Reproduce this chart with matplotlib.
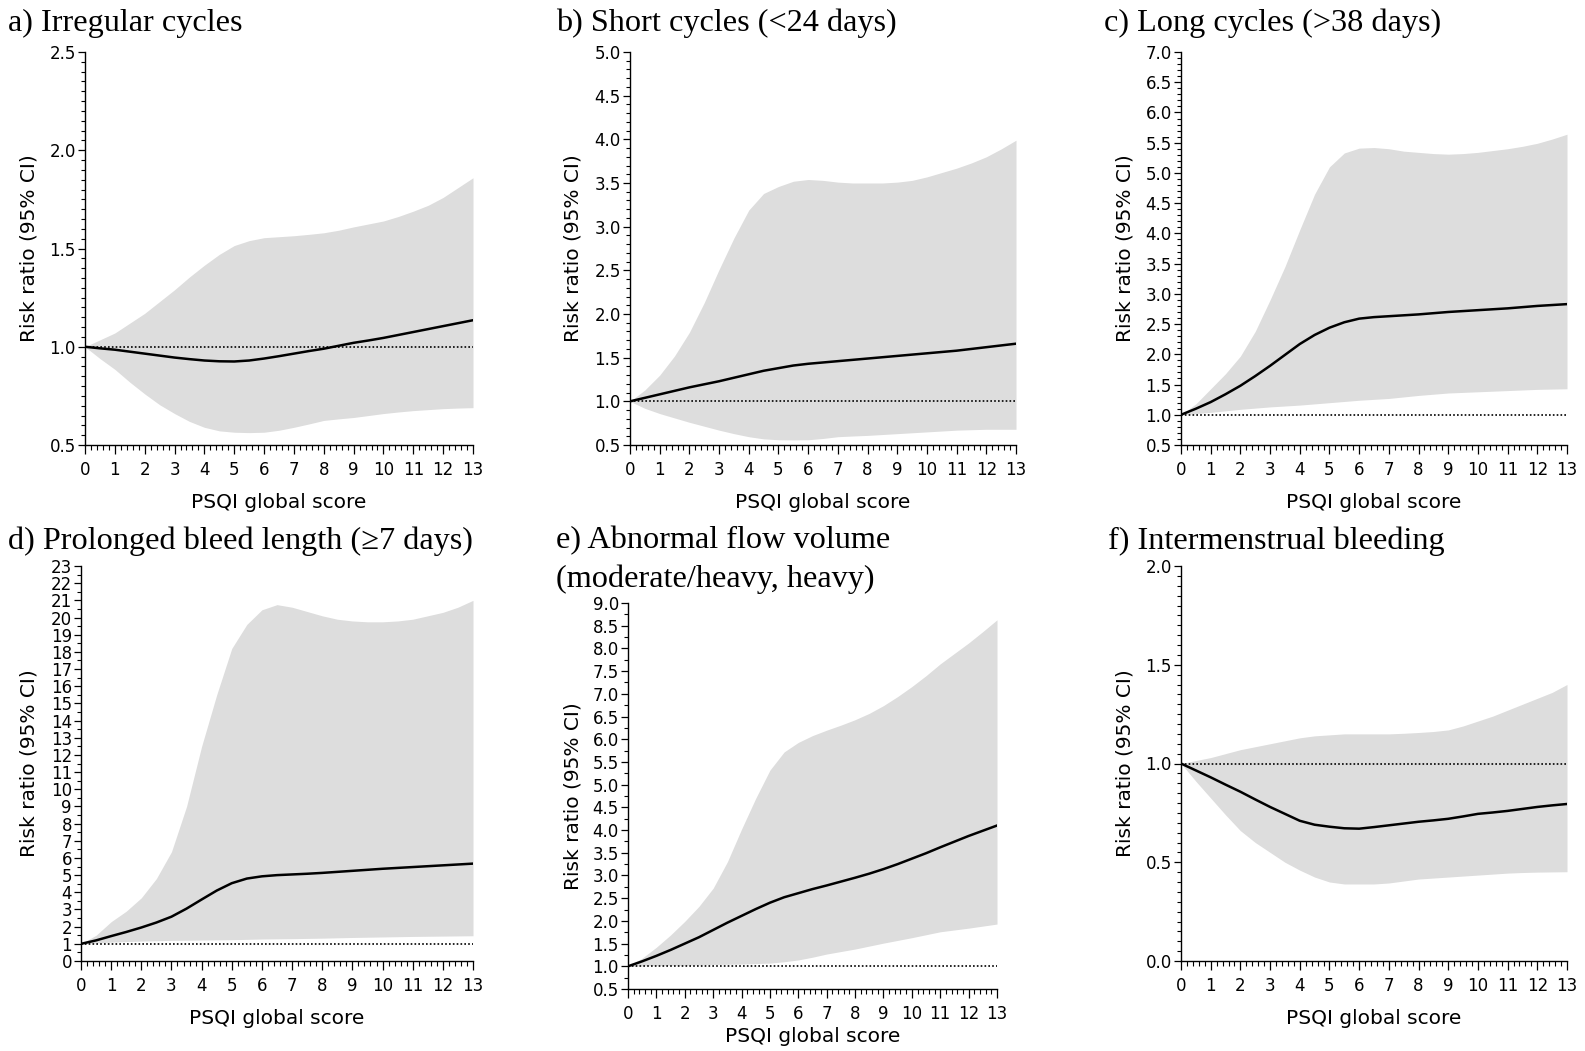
import matplotlib
matplotlib.use('Agg')
import matplotlib.pyplot as plt
from matplotlib.ticker import MultipleLocator, FormatStrFormatter

# ---------------- data ----------------
psqi = [0, 0.5, 1, 1.5, 2, 2.5, 3, 3.5, 4, 4.5, 5, 5.5, 6, 6.5, 7,
        7.5, 8, 8.5, 9, 9.5, 10, 10.5, 11, 11.5, 12, 12.5, 13]

titles = [
    "a) Irregular cycles",
    "b) Short cycles (<24 days)",
    "c) Long cycles (>38 days)",
    "d) Prolonged bleed length (\u22657 days)",
    "e) Abnormal flow volume\n(moderate/heavy, heavy)",
    "f) Intermenstrual bleeding",
]

# a) Irregular cycles
rr_a = [1.0, .992, .985, .975, .965, .955, .945, .937, .93, .926, .925, .93, .94, .952, .965,
        .978, .99, 1.005, 1.02, 1.032, 1.045, 1.06, 1.075, 1.09, 1.105, 1.12, 1.135]
hi_a = [1.0, 1.035, 1.07, 1.12, 1.17, 1.23, 1.29, 1.355, 1.415, 1.47, 1.515, 1.54, 1.555, 1.56, 1.565,
        1.572, 1.58, 1.593, 1.61, 1.625, 1.64, 1.663, 1.69, 1.72, 1.76, 1.81, 1.86]
lo_a = [1.0, .94, .885, .82, .76, .705, .66, .62, .59, .572, .565, .563, .565, .575, .59,
        .607, .625, .633, .64, .65, .66, .668, .675, .68, .685, .688, .69]

# b) Short cycles
rr_b = [1.0, 1.04, 1.08, 1.12, 1.16, 1.195, 1.23, 1.27, 1.31, 1.35, 1.38, 1.41, 1.43, 1.445, 1.46,
        1.475, 1.49, 1.505, 1.52, 1.535, 1.55, 1.565, 1.58, 1.60, 1.62, 1.64, 1.66]
hi_b = [1.0, 1.13, 1.3, 1.52, 1.79, 2.13, 2.51, 2.87, 3.19, 3.38, 3.46, 3.52, 3.54, 3.53, 3.51,
        3.5, 3.5, 3.5, 3.51, 3.53, 3.57, 3.62, 3.67, 3.73, 3.8, 3.89, 3.99]
lo_b = [1.0, .92, .86, .81, .76, .715, .67, .63, .595, .57, .56, .558, .56, .575, .595,
        .603, .61, .62, .63, .64, .65, .66, .67, .675, .68, .68, .68]

# c) Long cycles
rr_c = [1.0, 1.1, 1.21, 1.34, 1.48, 1.64, 1.81, 1.99, 2.17, 2.32, 2.44, 2.53, 2.59, 2.615, 2.63,
        2.645, 2.66, 2.68, 2.70, 2.715, 2.73, 2.745, 2.76, 2.78, 2.80, 2.815, 2.83]
hi_c = [1.0, 1.18, 1.43, 1.68, 1.97, 2.38, 2.9, 3.45, 4.06, 4.65, 5.1, 5.33, 5.41, 5.42, 5.4,
        5.36, 5.34, 5.32, 5.31, 5.32, 5.34, 5.37, 5.4, 5.44, 5.49, 5.56, 5.64]
lo_c = [1.0, 1.02, 1.04, 1.065, 1.09, 1.11, 1.13, 1.145, 1.16, 1.18, 1.2, 1.22, 1.24, 1.255, 1.27,
        1.295, 1.32, 1.34, 1.36, 1.37, 1.38, 1.39, 1.4, 1.41, 1.42, 1.425, 1.43]

# d) Prolonged bleed length
rr_d = [1.0, 1.2, 1.45, 1.69, 1.95, 2.24, 2.58, 3.05, 3.58, 4.1, 4.53, 4.8, 4.93, 5.0, 5.04,
        5.08, 5.13, 5.19, 5.25, 5.31, 5.37, 5.42, 5.47, 5.52, 5.57, 5.62, 5.67]
hi_d = [1.0, 1.5, 2.29, 2.9, 3.68, 4.8, 6.36, 9.0, 12.5, 15.5, 18.2, 19.6, 20.45, 20.75, 20.6,
        20.35, 20.1, 19.9, 19.8, 19.75, 19.75, 19.8, 19.9, 20.1, 20.3, 20.6, 21.0]
lo_d = [1.0, 1.05, 1.1, 1.13, 1.16, 1.18, 1.2, 1.21, 1.22, 1.23, 1.24, 1.26, 1.28, 1.29, 1.3,
        1.315, 1.33, 1.35, 1.37, 1.385, 1.4, 1.415, 1.43, 1.44, 1.45, 1.46, 1.47]

# e) Abnormal flow volume
rr_e = [1.0, 1.11, 1.23, 1.36, 1.5, 1.64, 1.8, 1.96, 2.11, 2.26, 2.4, 2.52, 2.61, 2.7, 2.78,
        2.865, 2.95, 3.04, 3.14, 3.25, 3.37, 3.49, 3.62, 3.745, 3.87, 3.985, 4.1]
hi_e = [1.0, 1.18, 1.42, 1.69, 1.99, 2.32, 2.72, 3.3, 4.02, 4.7, 5.32, 5.72, 5.93, 6.08, 6.2,
        6.31, 6.43, 6.57, 6.74, 6.94, 7.16, 7.4, 7.66, 7.89, 8.12, 8.37, 8.63]
lo_e = [1.0, 1.01, 1.02, 1.02, 1.02, 1.03, 1.04, 1.045, 1.05, 1.06, 1.07, 1.1, 1.14, 1.2, 1.27,
        1.325, 1.38, 1.445, 1.51, 1.57, 1.63, 1.695, 1.76, 1.8, 1.84, 1.885, 1.93]

# f) Intermenstrual bleeding
rr_f = [1.0, .965, .93, .893, .857, .818, .78, .745, .71, .69, .68, .672, .67, .678, .687,
        .696, .705, .712, .72, .732, .745, .752, .76, .77, .78, .788, .795]
hi_f = [1.0, 1.015, 1.03, 1.05, 1.07, 1.085, 1.1, 1.115, 1.13, 1.14, 1.145, 1.15, 1.15, 1.15, 1.15,
        1.153, 1.157, 1.162, 1.17, 1.19, 1.215, 1.24, 1.27, 1.3, 1.33, 1.36, 1.4]
lo_f = [1.0, .91, .825, .74, .66, .6, .55, .5, .46, .425, .40, .39, .39, .39, .395,
        .405, .415, .42, .425, .43, .435, .44, .445, .448, .45, .451, .452]

estimates = [rr_a, rr_b, rr_c, rr_d, rr_e, rr_f]
lowers = [lo_a, lo_b, lo_c, lo_d, lo_e, lo_f]
uppers = [hi_a, hi_b, hi_c, hi_d, hi_e, hi_f]

y_limits = [(0.5, 2.5), (0.5, 5.0), (0.5, 7.0), (0, 23), (0.5, 9.0), (0.0, 2.0)]
y_major = [0.5, 0.5, 0.5, 1, 0.5, 0.5]
y_minor = [0.05, 0.1, 0.1, 0.5, 0.25, 0.05]
y_fmt = ["%.1f", "%.1f", "%.1f", "%d", "%.1f", "%.1f"]

xlabel = "PSQI global score"
ylabel = "Risk ratio (95% CI)"

# ---------------- layout (pixels) ----------------
W, H = 1585, 1051
fig = plt.figure(figsize=(W / 100, H / 100), dpi=100)

# left, right, top, bottom of each plot area in pixels
boxes = [
    (85, 473, 52, 445),
    (630, 1016, 52, 445),
    (1181, 1567, 52, 445),
    (81, 473, 566, 961),
    (628, 997, 603, 989),
    (1181, 1567, 566, 961),
]
title_pos = [(8, 23), (556, 23), (1104, 23), (8, 541), (556, 541), (1108, 541)]
title_line_gap = 38
ylabel_x = [29, 573, 1125, 29, 573, 1125]
xlabel_y = [502, 502, 502, 1019, 1036, 1019]

fill_color = "#dddddd"
sans = "DejaVu Sans"
serif = "Liberation Serif"

for i in range(6):
    l, r, t, b = boxes[i]
    ax = fig.add_axes([l / W, 1 - b / H, (r - l) / W, (b - t) / H])
    ax.fill_between(psqi, lowers[i], uppers[i], color=fill_color, lw=0, zorder=1)
    ax.plot([psqi[0], psqi[-1]], [1, 1], color="black", lw=1.2,
            linestyle=(0, (1, 1.3)), zorder=2)
    ax.plot(psqi, estimates[i], color="black", lw=1.8, zorder=3)

    ax.set_xlim(0, 13)
    ax.set_ylim(*y_limits[i])
    ax.xaxis.set_major_locator(MultipleLocator(1))
    ax.xaxis.set_minor_locator(MultipleLocator(0.2))
    ax.yaxis.set_major_locator(MultipleLocator(y_major[i]))
    ax.yaxis.set_minor_locator(MultipleLocator(y_minor[i]))
    ax.yaxis.set_major_formatter(FormatStrFormatter(y_fmt[i]))
    for s in ("top", "right"):
        ax.spines[s].set_visible(False)
    for s in ("left", "bottom"):
        ax.spines[s].set_linewidth(1.0)
    ax.tick_params(axis="x", which="major", direction="out", length=6.5, width=0.9,
                   pad=5, labelsize=12)
    ax.tick_params(axis="x", which="minor", direction="out", length=3.5, width=0.8)
    ax.tick_params(axis="y", which="major", direction="out", length=5, width=0.9,
                   pad=1.5, labelsize=12)
    ax.tick_params(axis="y", which="minor", direction="out", length=3, width=0.8)
    for lab in ax.get_xticklabels() + ax.get_yticklabels():
        lab.set_fontfamily(sans)

    for k, line in enumerate(titles[i].split("\n")):
        fig.text(title_pos[i][0] / W, 1 - (title_pos[i][1] + k * title_line_gap) / H, line,
                 family=serif, fontsize=23.2, ha="left", va="center")
    fig.text(ylabel_x[i] / W, 1 - ((t + b) / 2) / H, ylabel, family=sans,
             fontsize=14.5, rotation=90, ha="center", va="center")
    fig.text(((l + r) / 2) / W, 1 - xlabel_y[i] / H, xlabel, family=sans,
             fontsize=14.5, ha="center", va="center")

fig.savefig("out.png", dpi=100)
